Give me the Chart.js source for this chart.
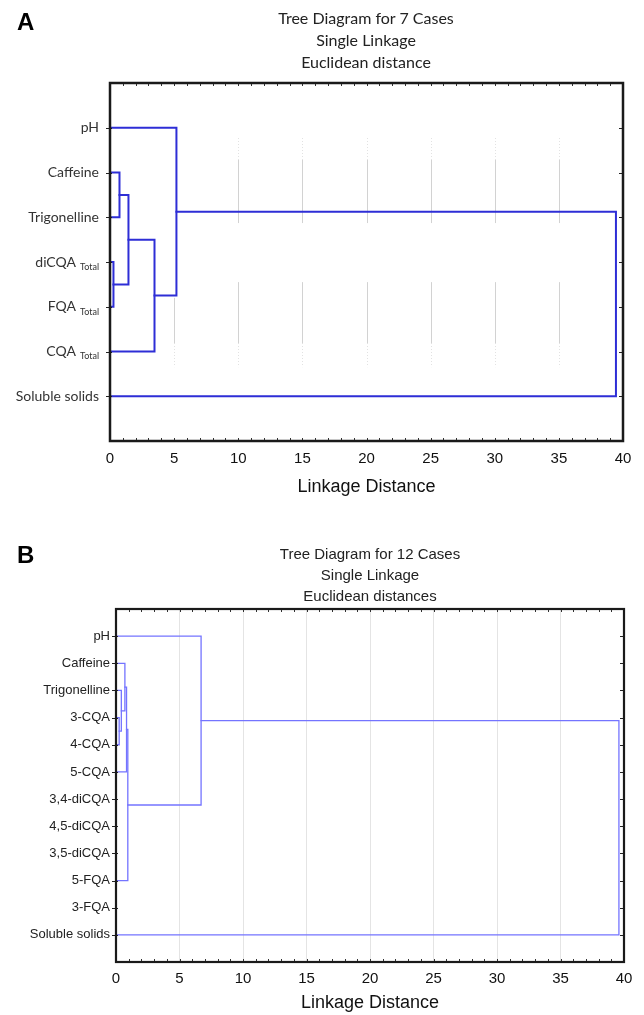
<!DOCTYPE html>
<html><head><meta charset="utf-8">
<script src="https://cdn.jsdelivr.net/npm/chart.js@4.4.0/dist/chart.umd.min.js"></script>
<style>
html,body{margin:0;padding:0;background:#fff;}
body{width:644px;height:1015px;position:relative;overflow:hidden;}
canvas{position:absolute;left:0;}
#cA{top:0}
#cB{top:500px}
.letter{position:absolute;left:17px;font:bold 24px "Liberation Sans",Arial,sans-serif;color:#000;}
.title{position:absolute;text-align:center;white-space:nowrap;transform:translateX(-50%);color:#222;}
</style></head><body>
<canvas id="cA" width="644" height="500"></canvas>
<canvas id="cB" width="644" height="515"></canvas>
<div class="letter" style="top:8px">A</div>
<div class="letter" style="top:541px">B</div>
<div class="title" id="tA" style="left:366px;top:7px;font:16px Lato,sans-serif;line-height:22px;"></div>
<div class="title" id="tB" style="left:370px;top:543px;font:15px 'Liberation Sans',Arial,sans-serif;line-height:21px;"></div>
<script>
// ---------- Panel A data ----------
const titleA = ['Tree Diagram for 7 Cases', 'Single Linkage', 'Euclidean distance'];
const casesA = ['pH', 'Caffeine', 'Trigonelline', 'diCQA', 'FQA', 'CQA', 'Soluble solids'];
const subsA  = ['', '', '', 'Total', 'Total', 'Total', ''];
// linkage: cluster n+k joins leftA[k] and rightA[k] at heightA[k]
const leftA   = [3, 1, 8, 9, 0, 11];
const rightA  = [4, 2, 7, 5, 10, 6];
const heightA = [0.27, 0.74, 1.44, 3.47, 5.18, 39.45];

// ---------- Panel B data ----------
const titleB = ['Tree Diagram for 12 Cases', 'Single Linkage', 'Euclidean distances'];
const casesB = ['pH', 'Caffeine', 'Trigonelline', '3-CQA', '4-CQA', '5-CQA', '3,4-diCQA', '4,5-diCQA', '3,5-diCQA', '5-FQA', '3-FQA', 'Soluble solids'];
const leftB   = [3, 2, 1, 14, 15, 0, 17];
const rightB  = [4, 12, 13, 5, 9, 16, 11];
const heightB = [0.25, 0.42, 0.70, 0.83, 0.93, 6.70, 39.60];

const xTicks = [0, 5, 10, 15, 20, 25, 30, 35, 40];
const axisTitle = 'Linkage Distance';

document.getElementById('tA').innerHTML = titleA.join('<br>');
document.getElementById('tB').innerHTML = titleB.join('<br>');

function buildSegments(n, L, R, H) {
  const pos = [], hgt = [];
  for (let i = 0; i < n; i++) { pos[i] = i + 1; hgt[i] = 0; }
  const sets = [];
  for (let k = 0; k < H.length; k++) {
    const a = L[k], b = R[k], c = n + k;
    pos[c] = (pos[a] + pos[b]) / 2; hgt[c] = H[k];
    sets.push([{x: hgt[a], y: pos[a]}, {x: H[k], y: pos[a]}, {x: H[k], y: pos[b]}, {x: hgt[b], y: pos[b]}]);
  }
  return sets;
}

function makeDecor(cfg) {
  return {
    id: 'decor',
    beforeDatasetsDraw(chart) {
      const ctx = chart.ctx, xs = chart.scales.x, ys = chart.scales.y;
      if (!cfg.segments) return;
      ctx.save();
      ctx.lineWidth = 1;
      cfg.segments.forEach(s => {
        ctx.strokeStyle = s.color;
        ctx.setLineDash(s.dash || []);
        s.vals.forEach(v => {
          const px = Math.round(xs.getPixelForValue(v)) + 0.5;
          ctx.beginPath();
          ctx.moveTo(px, ys.getPixelForValue(s.from));
          ctx.lineTo(px, ys.getPixelForValue(s.to));
          ctx.stroke();
        });
      });
      ctx.restore();
    },
    afterDatasetsDraw(chart) {
      const ctx = chart.ctx, xs = chart.scales.x, ys = chart.scales.y, a = chart.chartArea;
      ctx.save();
      // minor/major ticks top & bottom
      ctx.lineWidth = 1;
      for (let v = 1; v < 40; v++) {
        const px = Math.round(xs.getPixelForValue(v)) + 0.5;
        const len = 3;
        ctx.strokeStyle = '#333';
        ctx.beginPath();
        ctx.moveTo(px, a.bottom); ctx.lineTo(px, a.bottom - len);
        ctx.moveTo(px, a.top); ctx.lineTo(px, a.top + len);
        ctx.stroke();
      }
      // row ticks left (outward) and right (inward)
      ctx.strokeStyle = '#222';
      cfg.cases.forEach((c, i) => {
        const py = Math.round(ys.getPixelForValue(i + 1)) + 0.5;
        ctx.beginPath();
        ctx.moveTo(a.left - 4, py); ctx.lineTo(a.left + 2, py);
        ctx.moveTo(a.right, py); ctx.lineTo(a.right - 4, py);
        ctx.stroke();
      });
      // frame
      ctx.lineWidth = cfg.frameWidth;
      ctx.strokeStyle = '#1a1a1a';
      ctx.strokeRect(a.left, a.top, a.right - a.left, a.bottom - a.top);
      // labels
      ctx.fillStyle = cfg.labelColor;
      ctx.textBaseline = 'middle';
      ctx.textAlign = 'right';
      cfg.cases.forEach((c, i) => {
        const py = ys.getPixelForValue(i + 1);
        const sub = cfg.subs ? cfg.subs[i] : '';
        let xr = cfg.labelRight;
        if (sub) {
          ctx.font = cfg.subFont;
          const w = ctx.measureText(sub).width;
          ctx.fillText(sub, xr, py + 5);
          xr -= w + 4;
        }
        ctx.font = cfg.labelFont;
        ctx.fillText(c, xr, py);
      });
      ctx.restore();
    }
  };
}

function makeChart(id, n, L, R, H, cfg) {
  const segs = buildSegments(n, L, R, H);
  const datasets = segs.map(s => ({
    data: s, showLine: true, pointRadius: 0, borderColor: cfg.lineColor,
    borderWidth: cfg.lineWidth, tension: 0, borderJoinStyle: 'miter', borderCapStyle: 'square', fill: false
  }));
  return new Chart(document.getElementById(id), {
    type: 'scatter',
    data: { datasets },
    options: {
      responsive: false, animation: false, devicePixelRatio: 1,
      layout: { padding: { top: cfg.padTop, right: cfg.padRight, left: 0, bottom: 0 } },
      plugins: { legend: { display: false }, tooltip: { enabled: false }, title: { display: false } },
      scales: {
        x: {
          type: 'linear', min: 0, max: 40,
          afterBuildTicks: s => { s.ticks = xTicks.map(v => ({ value: v })); },
          afterFit: s => { s.height = cfg.xHeight; },
          ticks: { font: { family: 'Liberation Sans', size: cfg.tickSize }, color: '#111', padding: cfg.tickPad, maxRotation: 0, autoSkip: false },
          grid: {
            display: cfg.grid, drawTicks: false,
            color: c => (c.tick && c.tick.value > 0 && c.tick.value < 40) ? '#e4e4e4' : 'rgba(0,0,0,0)'
          },
          border: { display: false },
          title: { display: true, text: axisTitle, color: '#111', font: { family: 'Liberation Sans', size: 18 }, padding: { top: 0, bottom: cfg.titlePadBottom } }
        },
        y: {
          type: 'linear', min: 0, max: n + 1, reverse: true,
          afterFit: s => { s.width = cfg.yWidth; },
          ticks: { display: false },
          grid: { display: false },
          border: { display: false }
        }
      }
    },
    plugins: [makeDecor(cfg)]
  });
}

makeChart('cA', casesA.length, leftA, rightA, heightA, {
  padTop: 83, padRight: 21, yWidth: 110, xHeight: 59, tickSize: 15, tickPad: 9, titlePadBottom: 2,
  lineColor: '#2e2ed6', lineWidth: 2, frameWidth: 2.5, grid: false,
  cases: casesA, subs: subsA, labelRight: 99, labelFont: '14px Lato', subFont: '9px Lato', labelColor: '#333',
  segments: [
    { vals: [10, 15, 20, 25, 30, 35], from: 1.72, to: 3.13, color: '#d2d2d2' },
    { vals: [10, 15, 20, 25, 30, 35], from: 1.23, to: 1.72, color: '#e2e2e2', dash: [1, 2] },
    { vals: [10, 15, 20, 25, 30, 35], from: 4.45, to: 5.81, color: '#d2d2d2' },
    { vals: [5], from: 4.8, to: 5.81, color: '#d2d2d2' },
    { vals: [5, 10, 15, 20, 25, 30, 35], from: 5.81, to: 6.35, color: '#e2e2e2', dash: [1, 2] }
  ]
});

makeChart('cB', casesB.length, leftB, rightB, heightB, {
  padTop: 109, padRight: 20, yWidth: 116, xHeight: 53, tickSize: 15, tickPad: 8, titlePadBottom: 1,
  lineColor: '#7474ff', lineWidth: 1.3, frameWidth: 2.2, grid: true,
  cases: casesB, subs: null, labelRight: 110, labelFont: '13px "Liberation Sans"', labelColor: '#222'
});
</script>
</body></html>
